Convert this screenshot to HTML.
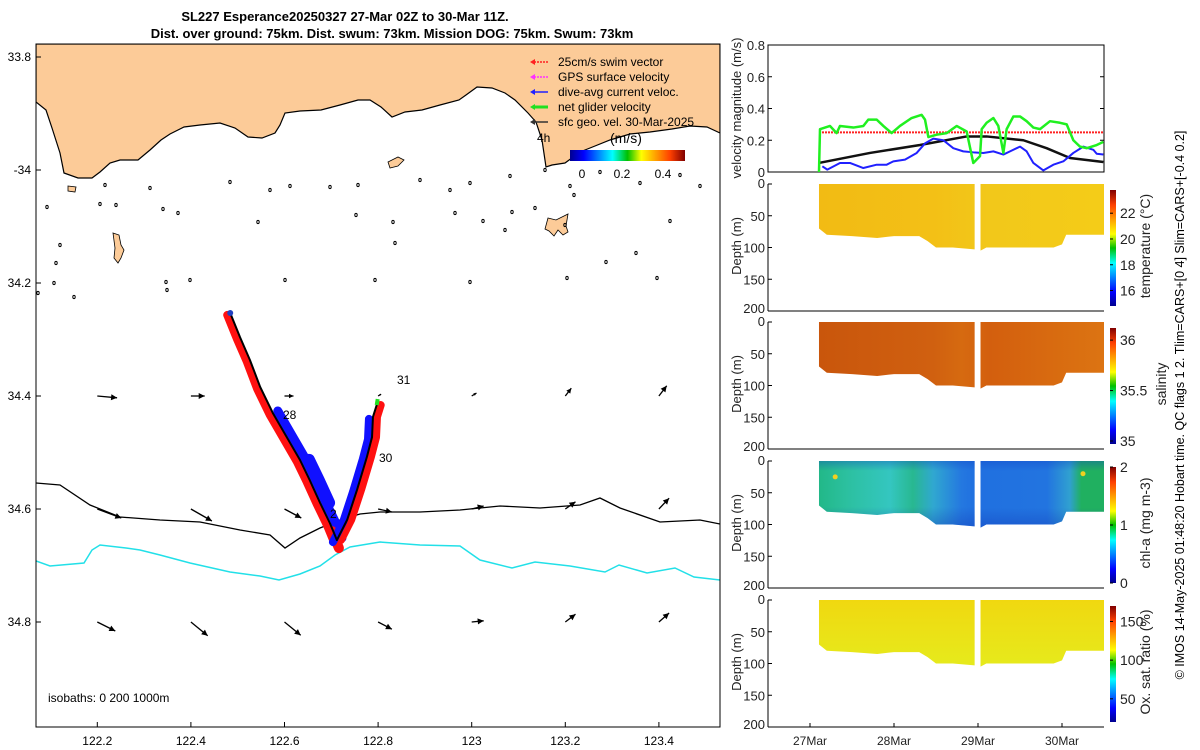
<!DOCTYPE html>
<html><head><meta charset="utf-8">
<style>
html,body{margin:0;padding:0;background:#fff;}
svg{display:block;font-family:"Liberation Sans",sans-serif;}
</style></head>
<body>
<svg id="fig" width="1200" height="750" viewBox="0 0 1200 750" xmlns="http://www.w3.org/2000/svg">
<defs>
<linearGradient id="jet" x1="0" y1="1" x2="0" y2="0">
<stop offset="0" stop-color="#00008f"/><stop offset="0.12" stop-color="#0000ff"/><stop offset="0.37" stop-color="#00ffff"/>
<stop offset="0.5" stop-color="#00c000"/><stop offset="0.62" stop-color="#ffff00"/><stop offset="0.87" stop-color="#ff4000"/><stop offset="1" stop-color="#800000"/>
</linearGradient>
<linearGradient id="jeth" x1="0" y1="0" x2="1" y2="0">
<stop offset="0" stop-color="#00008f"/><stop offset="0.12" stop-color="#0000ff"/><stop offset="0.37" stop-color="#00ffff"/>
<stop offset="0.5" stop-color="#00c000"/><stop offset="0.62" stop-color="#ffff00"/><stop offset="0.87" stop-color="#ff4000"/><stop offset="1" stop-color="#800000"/>
</linearGradient>
<linearGradient id="gTemp" gradientUnits="userSpaceOnUse" x1="819" y1="0" x2="1104" y2="0">
<stop offset="0" stop-color="#f2bb14"/><stop offset="0.4" stop-color="#f3c016"/><stop offset="0.6" stop-color="#f2c81a"/><stop offset="1" stop-color="#f4cc18"/>
</linearGradient>
<linearGradient id="gSal" gradientUnits="userSpaceOnUse" x1="819" y1="0" x2="1104" y2="0">
<stop offset="0" stop-color="#c9560c"/><stop offset="0.4" stop-color="#d06010"/><stop offset="0.5" stop-color="#d66a10"/><stop offset="0.6" stop-color="#d35f0e"/><stop offset="1" stop-color="#dc7412"/>
</linearGradient>
<linearGradient id="gChl" gradientUnits="userSpaceOnUse" x1="819" y1="0" x2="1104" y2="0">
<stop offset="0" stop-color="#22b888"/><stop offset="0.1" stop-color="#2cc0a0"/><stop offset="0.25" stop-color="#34c6c0"/><stop offset="0.33" stop-color="#28b890"/>
<stop offset="0.4" stop-color="#30a8d0"/><stop offset="0.5" stop-color="#2478e0"/><stop offset="0.55" stop-color="#2070e0"/>
<stop offset="0.8" stop-color="#2274e0"/><stop offset="0.88" stop-color="#30a0d0"/><stop offset="0.92" stop-color="#20b060"/><stop offset="1" stop-color="#20b060"/>
</linearGradient>
<linearGradient id="gChlV" x1="0" y1="0" x2="0" y2="1">
<stop offset="0" stop-color="#1040c0" stop-opacity="0.35"/><stop offset="0.15" stop-color="#1040c0" stop-opacity="0"/>
<stop offset="0.7" stop-color="#1030b0" stop-opacity="0"/><stop offset="1" stop-color="#1030b0" stop-opacity="0.35"/>
</linearGradient>
<linearGradient id="gOx" x1="0" y1="0" x2="0" y2="1">
<stop offset="0" stop-color="#f0d810"/><stop offset="1" stop-color="#e6ea1c"/>
</linearGradient>
<clipPath id="mapclip"><rect x="36" y="44" width="684" height="683"/></clipPath>
</defs>

<text x="345" y="21" font-size="13" font-weight="bold" text-anchor="middle">SL227 Esperance20250327 27-Mar 02Z to 30-Mar 11Z.</text>
<text x="392" y="38" font-size="13" font-weight="bold" text-anchor="middle">Dist. over ground: 75km. Dist. swum: 73km. Mission DOG: 75km. Swum: 73km</text>

<g id="map">
<g clip-path="url(#mapclip)">
<path fill="#fccb98" stroke="#000" stroke-width="1.2"
d="M36,44 L720,44 L720,133 L707,127 L690,126 L672,129 L650,132 L630,134 L610,140 L595,146 L580,152 L565,163 L552,165 L546,167 L542,140 L536,122 L528,113 L515,100 L505,93 L492,88 L477,87 L466,95 L459,100 L440,105 L422,110 L405,112 L392,117 L381,107 L370,100 L358,100 L340,105 L321,110 L300,111 L285,113 L280,125 L275,133 L262,138 L248,137 L235,128 L220,123 L200,125 L184,127 L170,134 L161,140 L150,150 L138,160 L120,160 L110,163 L100,172 L92,178 L78,178 L64,173 L60,153 L52,128 L46,110 L36,102 Z"/>
<path fill="#fccb98" stroke="#000" stroke-width="0.8" d="M113,233 L119,235 L121,245 L124,250 L121,258 L118,263 L114,258 L115,248 Z"/>
<path fill="#fccb98" stroke="#000" stroke-width="0.8" d="M548,218 L556,220 L564,216 L568,214 L566,226 L568,232 L563,235 L558,230 L554,236 L549,231 L545,229 Z"/>
<path fill="#fccb98" stroke="#000" stroke-width="0.8" d="M388,162 L398,157 L404,160 L398,166 L390,168 Z"/>
<path fill="#fccb98" stroke="#000" stroke-width="0.8" d="M68,186 L76,187 L75,192 L68,191 Z"/>
<g id="islets" fill="none" stroke="#000" stroke-width="1"></g>
<polyline fill="none" stroke="#000" stroke-width="1.3" points="36,483 60,485 90,505 120,517 160,520 200,522 240,530 270,535 285,548 300,538 320,528 340,520 360,514 380,512 420,512 460,510 500,506 540,508 580,505 600,498 620,508 660,522 700,520 720,524"/>
<polyline fill="none" stroke="#22e0e8" stroke-width="1.5" points="36,561 50,566 84,563 92,550 100,545 126,548 140,550 160,555 190,563 230,572 260,576 279,580 300,574 320,566 335,555 350,547 380,542 420,545 460,546 480,560 512,568 535,562 570,566 605,572 619,565 647,573 675,568 694,577 720,580"/>
<g id="vectors"></g>
<g id="track"></g>
</g>
<rect x="36" y="44" width="684" height="683" fill="none" stroke="#000" stroke-width="1"/>
<g id="mapaxes" font-size="12"></g>
<text x="48" y="702" font-size="12">isobaths: 0   200  1000m</text>
<text x="283" y="419" font-size="12">28</text>
<text x="330" y="518" font-size="12">2</text>
<text x="379" y="462" font-size="12">30</text>
<text x="397" y="384" font-size="12">31</text>
<g font-size="12">
<line x1="548" y1="62" x2="533" y2="62" stroke="#ff2020" stroke-width="1.5" stroke-dasharray="2 1"/><path d="M530,62 l5,-3 v6z" fill="#ff2020"/>
<text x="558" y="66">25cm/s swim vector</text>
<line x1="548" y1="77" x2="533" y2="77" stroke="#ff30ff" stroke-width="1.5" stroke-dasharray="2 1"/><path d="M530,77 l5,-3 v6z" fill="#ff30ff"/>
<text x="558" y="81">GPS surface velocity</text>
<line x1="548" y1="92" x2="533" y2="92" stroke="#2020ff" stroke-width="1.5"/><path d="M530,92 l5,-3 v6z" fill="#2020ff"/>
<text x="558" y="96">dive-avg current veloc.</text>
<line x1="548" y1="107" x2="533" y2="107" stroke="#20e020" stroke-width="3"/><path d="M530,107 l5,-3 v6z" fill="#20e020"/>
<text x="558" y="111">net glider velocity</text>
<line x1="548" y1="122" x2="533" y2="122" stroke="#333" stroke-width="1.5"/><path d="M530,122 l5,-3 v6z" fill="#333"/>
<text x="558" y="126">sfc geo. vel. 30-Mar-2025</text>
<text x="537" y="142">4h</text>
<text x="610" y="143" font-size="14">(m/s)</text>
<rect x="570" y="150" width="115" height="11" fill="url(#jeth)"/>
<text x="582" y="178" text-anchor="middle">0</text>
<text x="622" y="178" text-anchor="middle">0.2</text>
<text x="663" y="178" text-anchor="middle">0.4</text>
</g>
</g>

<g id="right"></g>
<text transform="translate(1184,405) rotate(-90)" font-size="12.5" text-anchor="middle">© IMOS 14-May-2025 01:48:20 Hobart time. QC flags 1  2. Tlim=CARS+[0 4] Slim=CARS+[-0.4 0.2]</text>
</svg>

<script>
const latTicks = [33.8, 34.0, 34.2, 34.4, 34.6, 34.8];
const latTickLabels = ["33.8", "-34", "34.2", "34.4", "34.6", "34.8"];
const lonTicks = [122.2, 122.4, 122.6, 122.8, 123.0, 123.2, 123.4];
const lonTickLabels = ["122.2", "122.4", "122.6", "122.8", "123", "123.2", "123.4"];
const trackLon = [122.484,122.505,122.526,122.548,122.575,122.605,122.633,122.654,122.676,122.697,122.712,122.734,122.755,122.776,122.787,122.789,122.797];
const trackLat = [34.253,34.296,34.336,34.384,34.430,34.473,34.513,34.549,34.589,34.625,34.655,34.619,34.566,34.508,34.473,34.437,34.416];
const vecLon = [122.2,122.4,122.6,122.8,123.0,123.2,123.4];
const vecRowLat = [34.4, 34.6, 34.8];
const vecU = [[.33,.23,.15,.05,.08,.10,.13],[.40,.35,.28,.23,.20,.17,.17],[.30,.28,.27,.23,.20,.17,.17]];
const vecV = [[-.03,0,0,.03,.05,.13,.17],[-.15,-.20,-.15,-.05,.05,.12,.18],[-.15,-.23,-.22,-.12,.02,.13,.15]];
const islets = [[105,185],[150,188],[230,182],[270,190],[290,186],[330,187],[358,185],[420,180],[450,190],[470,183],[510,176],[545,170],[600,172],[640,183],[680,175],[700,186],[47,207],[100,204],[116,205],[163,209],[178,213],[258,222],[356,215],[455,213],[483,221],[505,230],[512,212],[535,208],[565,225],[570,186],[574,195],[670,221],[60,245],[56,263],[393,222],[395,243],[636,253],[606,262],[54,283],[166,282],[190,280],[285,280],[375,280],[470,282],[567,278],[657,278],[74,297],[38,293],[167,290]];

function X(lon){ return 97.3 + (lon-122.2)*468; }
function Y(lat){ return 57 + (lat-33.8)*565; }
const NS = "http://www.w3.org/2000/svg";
function mk(tag, attrs, parent){ const e=document.createElementNS(NS,tag); for(const k in attrs) e.setAttribute(k,attrs[k]); parent.appendChild(e); return e; }

const mapaxes = document.getElementById('mapaxes');
latTicks.forEach((la,i)=>{
  const y=Y(la);
  const t=mk('line',{x1:36,x2:41,y1:y,y2:y,stroke:'#000'},mapaxes);
  
  
  const l=mk('text',{x:31,y:y+4,'text-anchor':'end'},mapaxes);
  l.textContent=latTickLabels[i];
  
  
});
lonTicks.forEach((lo,i)=>{
  const x=X(lo);
  const t=mk('line',{x1:x,x2:x,y1:727,y2:722,stroke:'#000'},mapaxes);
  
  
  const l=mk('text',{x:x,y:745,'text-anchor':'middle'},mapaxes);
  l.textContent=lonTickLabels[i];
  
  
});
const isl=document.getElementById('islets');
islets.forEach(p=>{
  const c=mk('ellipse',{cx:p[0],cy:p[1],rx:1.2,ry:1.6},isl);
  
  
});
const vg=document.getElementById('vectors');
const VS=60;
vecRowLat.forEach((la,r)=>{
  vecLon.forEach((lo,c)=>{
    const x0=X(lo), y0=Y(la), dx=vecU[r][c]*VS, dy=-vecV[r][c]*VS;
    const L=Math.hypot(dx,dy)||1, ux=dx/L, uy=dy/L;
    const hs=Math.min(6,L*0.5);
    const ln=mk('line',{x1:x0,y1:y0,x2:x0+dx,y2:y0+dy,stroke:'#000','stroke-width':1.3},vg);
    
    
    const hx=x0+dx, hy=y0+dy;
    const hd=mk('path',{d:`M${hx},${hy} L${hx-hs*ux+hs/2*uy},${hy-hs*uy-hs/2*ux} L${hx-hs*ux-hs/2*uy},${hy-hs*uy+hs/2*ux} Z`,fill:'#000'},vg);
    
    
  });
});
const tg=document.getElementById('track');
const px=trackLon.map(X), py=trackLat.map(Y);
function poly(offx,offy,w,col,from,to,name){
  const pts=[]; for(let i=from;i<=to;i++) pts.push((px[i]+offx)+','+(py[i]+offy));
  const p=mk('polyline',{points:pts.join(' '),fill:'none',stroke:col,'stroke-width':w,'stroke-linejoin':'round','stroke-linecap':'round'},tg);
  
  
}
poly(-3,2,8,'#ff1010',0,10,'swim-vectors-leg1');
poly(5,-2,9,'#1010ff',4,10,'current-vectors-leg1');
poly(9,0,12,'#1010ff',6,8,'current-vectors-leg1-wide');
poly(2,8,10,'#ff1010',9,10,'swim-vectors-leg1-tail');
poly(4,0,8,'#ff1010',10,16,'swim-vectors-leg2');
poly(-4,2,8,'#1010ff',10,15,'current-vectors-leg2');
poly(0,0,2,'#000',0,16,'glider-track');
mk('circle',{cx:px[0],cy:py[0],r:3,fill:'#2040c0'},tg);
const gtip=mk('line',{x1:px[16],y1:py[16],x2:px[16]+1,y2:py[16]-6,stroke:'#20e020','stroke-width':4},tg);



const dayTicks = [0,1,2,3];
const dayLabels = ["27Mar","28Mar","29Mar","30Mar"];
const velTicks = [0,0.2,0.4,0.6,0.8];
const greenT = [0.107,0.119,0.238,0.317,0.357,0.516,0.635,0.694,0.794,0.873,0.972,1.071,1.210,1.329,1.369,1.409,1.508,1.627,1.746,1.865,1.944,2.024,2.044,2.103,2.183,2.242,2.302,2.341,2.421,2.5,2.579,2.659,2.738,2.857,2.976,3.056,3.135,3.214,3.294,3.413,3.492];
const greenV = [0,0.27,0.29,0.245,0.29,0.28,0.29,0.33,0.33,0.29,0.245,0.29,0.34,0.36,0.33,0.22,0.235,0.245,0.29,0.255,0.057,0.1,0.27,0.31,0.34,0.29,0.12,0.27,0.35,0.35,0.32,0.28,0.27,0.32,0.31,0.3,0.2,0.16,0.15,0.17,0.19];
const blueT = [0.147,0.206,0.357,0.476,0.635,0.794,0.913,0.992,1.131,1.270,1.369,1.468,1.587,1.706,1.825,1.944,2.063,2.183,2.302,2.381,2.5,2.579,2.659,2.778,2.897,3.016,3.135,3.254,3.373,3.413,3.492];
const blueV = [0.036,0.015,0.057,0.057,0.025,0.046,0.046,0.067,0.078,0.12,0.18,0.21,0.2,0.15,0.13,0.124,0.12,0.13,0.11,0.13,0.16,0.13,0.057,0.01,0.046,0.067,0.12,0.16,0.14,0.115,0.11];
const blackT = [0.107,0.714,1.31,1.865,2.103,2.54,2.817,3.095,3.492];
const blackV = [0.057,0.12,0.17,0.224,0.224,0.2,0.15,0.088,0.063];
const swimT = [0.107,3.492];
const swimV = [0.25,0.25];
const depthTicks = [0,50,100,150,200];
const bottomT1 = [0.107,0.2,0.5,0.8,1.0,1.3,1.4,1.5,1.7,1.96];
const bottomD1 = [70,80,82,85,82,82,90,100,100,103];
const bottomT2 = [2.03,2.1,2.5,2.9,3.0,3.05,3.5];
const bottomD2 = [105,100,100,100,95,80,80];
const tempTicks = [16,18,20,22]; const tempRange=[14.8,23.8];
const salTicks = [35,35.5,36]; const salRange=[34.97,36.12];
const chlTicks = [0,1,2]; const chlRange=[0,2];
const oxTicks = [50,100,150]; const oxRange=[20,170];

function T(t){ return 810 + t*84; }
const R=document.getElementById('right');
const PX0=768, PX1=1104;
const vTop=45, vBot=172;
function VY(v){ return vBot - v/0.8*(vBot-vTop); }
const vf=mk('rect',{x:PX0,y:vTop,width:PX1-PX0,height:vBot-vTop,fill:'none',stroke:'#000'},R);


velTicks.forEach(v=>{
  const y=VY(v);
  mk('line',{x1:PX0,x2:PX0+4,y1:y,y2:y,stroke:'#000'},R);
  mk('line',{x1:PX1,x2:PX1-4,y1:y,y2:y,stroke:'#000'},R);
  const l=mk('text',{x:PX0-3,y:y+5,'text-anchor':'end','font-size':13,fill:'#222'},R);
  l.textContent = v===0?'0':v.toFixed(1);
  
  
});
const vl=mk('text',{transform:'translate(741,108) rotate(-90)','text-anchor':'middle','font-size':13,fill:'#222'},R);
vl.textContent='velocity magnitude (m/s)';


function line(ts,vs,col,w,name,dash){
  const pts=ts.map((t,i)=>T(t)+','+VY(vs[i])).join(' ');
  const p=mk('polyline',{points:pts,fill:'none',stroke:col,'stroke-width':w,'stroke-linejoin':'round'},R);
  if(dash) p.setAttribute('stroke-dasharray',dash);
  
  
}
line(swimT,swimV,'#ff2020',2,'swim-speed-line','2 1');
line(blackT,blackV,'#111',2.5,'geo-velocity-line');
line(blueT,blueV,'#2020ff',2,'dive-avg-current-line');
line(greenT,greenV,'#20f020',2.5,'net-glider-velocity-line');

const panels=[
 {top:184,fill:'url(#gTemp)',ticks:tempTicks,range:tempRange,title:'temperature (°C)',tx:1150,name:'temperature'},
 {top:322,fill:'url(#gSal)',ticks:salTicks,range:salRange,title:'salinity',tx:1166,name:'salinity'},
 {top:461,fill:'url(#gChl)',ticks:chlTicks,range:chlRange,title:'chl-a (mg m-3)',tx:1150,name:'chl-a'},
 {top:600,fill:'url(#gOx)',ticks:oxTicks,range:oxRange,title:'Ox. sat. ratio (%)',tx:1150,name:'oxygen'}
];
panels.forEach((p,pi)=>{
  const H=127, bot=p.top+H;
  const D=d=>p.top + d/200*H;
  mk('line',{x1:PX0,x2:PX0,y1:p.top,y2:bot,stroke:'#000'},R);
  const bl=mk('line',{x1:PX0,x2:PX1,y1:bot,y2:bot,stroke:'#000'},R);
  
  
  depthTicks.forEach(d=>{
    mk('line',{x1:PX0,x2:PX0+4,y1:D(d),y2:D(d),stroke:'#000'},R);
    const l=mk('text',{x:PX0-3,y:D(d)+(d===0?4:d===200?2:5),'text-anchor':'end','font-size':13,fill:'#222'},R);
    l.textContent=d;
    
    
  });
  const dl=mk('text',{transform:`translate(741,${p.top+62}) rotate(-90)`,'text-anchor':'middle','font-size':13,fill:'#222'},R);
  dl.textContent='Depth (m)';
  
  
  [[bottomT1,bottomD1],[bottomT2,bottomD2]].forEach((seg,si)=>{
    const ts=seg[0], ds=seg[1];
    let d=`M${T(ts[0])},${D(0)} `;
    ts.forEach((t,i)=>{ d+=`L${T(t)},${D(ds[i])} `; });
    d+=`L${T(ts[ts.length-1])},${D(0)} Z`;
    const sec=mk('path',{d:d,fill:p.fill},R);
    
    
    if(p.name==='chl-a'){ mk('path',{d:d,fill:'url(#gChlV)'},R); }
  });
  const cT=p.top+6, cB=bot-5;
  const cb=mk('rect',{x:1110,y:cT,width:6,height:cB-cT,fill:'url(#jet)'},R);
  
  
  p.ticks.forEach(v=>{
    const y=cB-(v-p.range[0])/(p.range[1]-p.range[0])*(cB-cT);
    mk('line',{x1:1110,x2:1113,y1:y,y2:y,stroke:'#000'},R);
    const l=mk('text',{x:1120,y:y+5,'font-size':14,fill:'#222'},R);
    l.textContent=v;
    
    
  });
  const tt=mk('text',{transform:`translate(${p.tx},${p.top+62}) rotate(-90)`,'text-anchor':'middle','font-size':14,fill:'#222'},R);
  tt.textContent=p.title;
  
  
});
const chlSpotT=[0.3,3.25]; const chlSpotD=[25,20];
chlSpotT.forEach((t,i)=>{
  const s=mk('circle',{cx:T(t),cy:461+chlSpotD[i]/200*127,r:2.5,fill:'#f0d020'},R);
  
  
});
dayTicks.forEach((d,i)=>{
  const x=T(d);
  mk('line',{x1:x,x2:x,y1:727,y2:723,stroke:'#000'},R);
  const l=mk('text',{x:x,y:745,'text-anchor':'middle','font-size':12,fill:'#222'},R);
  l.textContent=dayLabels[i];
  
  
});
</script>
</body></html>
